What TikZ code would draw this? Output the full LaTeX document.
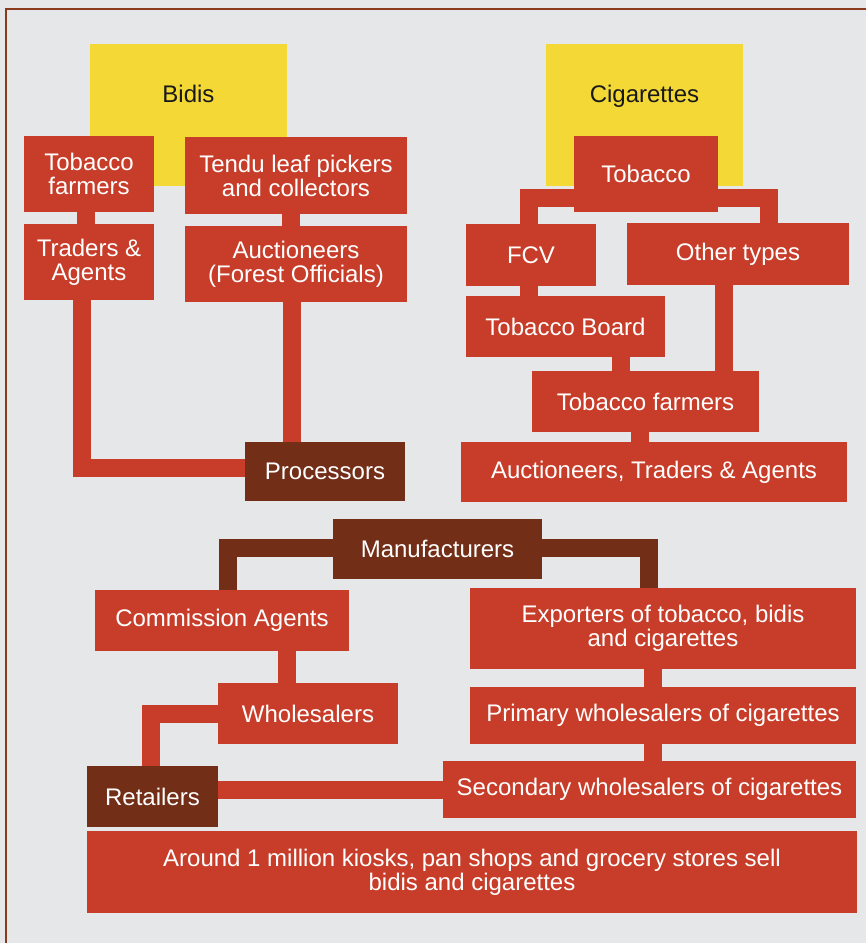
\documentclass[tikz,border=0pt]{standalone}
\usepackage{fontspec}
\setmainfont{Liberation Sans}
\usetikzlibrary{positioning,calc}
\definecolor{cervena}{RGB}{199,61,41}
\definecolor{hneda}{RGB}{115,46,23}
\definecolor{zluta}{RGB}{244,216,54}
\definecolor{pozadi}{RGB}{230,231,232}
\definecolor{ramec}{RGB}{140,58,30}
\tikzset{
  rozm/.style 2 args={minimum width=#1pt,minimum height=#2pt},
  blok/.style={rectangle,fill=cervena,text=white,inner sep=0pt,align=center},
  blokT/.style={blok,fill=hneda},
  blokZ/.style={rectangle,fill=zluta,text=black!90,inner sep=0pt,rozm={197}{142},text height=58pt,text depth=84pt},
  spoj/.style={draw=cervena,line width=18pt},
  spojT/.style={draw=hneda,line width=18pt},
}

\begin{document}
\begin{tikzpicture}[x=1pt,y=-1pt,font=\fontsize{24}{24}\selectfont]
  \fill[pozadi] (0,0) rectangle (866,943);
  \useasboundingbox (0,0) rectangle (866,943);
  \draw[ramec,line width=1.5pt] (6,943) -- (6,9) -- (866,9);

  % bidis
  \node[blokZ] (bidis) at (188.5,115) {Bidis};
  \node[blok,rozm={130}{76}] (farmB) at (89,174) {Tobacco\\farmers};
  \node[blok,rozm={130}{76}] (tradB) at (89,262) {Traders \&\\Agents};
  \node[blok,rozm={222}{77}] (tendu) at (296,175.5) {Tendu leaf pickers\\and collectors};
  \node[blok,rozm={222}{76}] (aukF) at (296,264) {Auctioneers\\(Forest Officials)};
  \node[blokT,rozm={160}{59}] (proc) at (325,471.5) {Processors};

  % cigarettes
  \node[blokZ] (cig) at (644.5,115) {Cigarettes};
  \node[blok,rozm={144}{76}] (tob) at (646,174) {Tobacco};
  \node[blok,rozm={130}{62}] (fcv) at (531,255) {FCV};
  \node[blok,rozm={222}{62}] (oth) at (738,254) {Other types};
  \node[blok,rozm={199}{61}] (board) at (565.5,326.5) {Tobacco Board};
  \node[blok,rozm={227}{61}] (farmC) at (645.5,401.5) {Tobacco farmers};
  \node[blok,rozm={386}{60}] (aukC) at (654,472) {Auctioneers, Traders \& Agents};

  % trade
  \node[blokT,rozm={209}{60}] (manu) at (437.5,549) {Manufacturers};
  \node[blok,rozm={254}{61}] (comm) at (222,620.5) {Commission Agents};
  \node[blok,rozm={180}{61}] (whole) at (308,713.5) {Wholesalers};
  \node[blokT,rozm={131}{61}] (ret) at (152.5,796.5) {Retailers};
  \node[blok,rozm={386}{81}] (expo) at (663,628.5) {Exporters of tobacco, bidis\\and cigarettes};
  \node[blok,rozm={386}{57}] (prim) at (663,715.5) {Primary wholesalers of cigarettes};
  \node[blok,rozm={413}{57}] (sec) at (649.5,789.5) {Secondary wholesalers of cigarettes};
  \node[blok,rozm={770}{82}] (kiosk) at (472,872) {Around 1 million kiosks, pan shops and grocery stores sell\\bidis and cigarettes};

  \draw[spoj] ([xshift=-3pt]farmB.south) -- ([xshift=-3pt]tradB.north);
  \draw[spoj] ([xshift=-5pt]tendu.south) -- ([xshift=-5pt]aukF.north);
  \draw[spoj] ([xshift=-7pt]tradB.south) |- ([yshift=4pt]proc.west);
  \draw[spoj] ([xshift=-4pt]aukF.south) -- ([xshift=-33pt]proc.north);

  \draw[spoj] ([yshift=-24pt]tob.west) -| ([xshift=-2pt]fcv.north);
  \draw[spoj] ([yshift=-24pt]tob.east) -| ([xshift=31pt]oth.north);
  \draw[spoj] ([xshift=-2pt]fcv.south) -- ([xshift=-36.5pt]board.north);
  \draw[spoj] ([xshift=55.5pt]board.south) -- ([xshift=-24.5pt]farmC.north);
  \draw[spoj] ([xshift=-14pt]oth.south) -- ([xshift=78.5pt]farmC.north);
  \draw[spoj] ([xshift=-5.5pt]farmC.south) -- ([xshift=-14pt]aukC.north);

  \draw[spojT] ([yshift=1pt]manu.west) -| ([xshift=6pt]comm.north);
  \draw[spojT] ([yshift=1pt]manu.east) -| ([xshift=-14pt]expo.north);
  \draw[spoj] ([xshift=65pt]comm.south) -- ([xshift=-21pt]whole.north);
  \draw[spoj] (whole.west) -| ([xshift=-1.5pt]ret.north);
  \draw[spoj] (sec.west) -- (sec.west -| ret.east);
  \draw[spoj] ([xshift=-10pt]expo.south) -- ([xshift=-10pt]prim.north);
  \draw[spoj] ([xshift=-10pt]prim.south) -- ([xshift=3.5pt]sec.north);
\end{tikzpicture}
\end{document}
